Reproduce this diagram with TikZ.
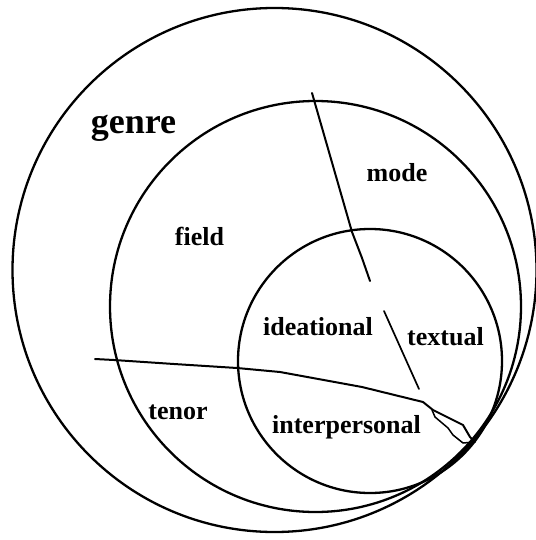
\documentclass[tikz,border=0pt]{standalone}
\usepackage{fontspec}
\setmainfont{Liberation Serif}
\begin{document}
\begin{tikzpicture}[x=1pt,y=-1pt,
  ring/.style={circle,draw,line width=2.3pt,inner sep=0pt,outer sep=0pt},
  lab/.style={anchor=base,inner sep=0pt,font=\bfseries\fontsize{26}{26}\selectfont},
  stroke/.style={line width=2pt,line cap=round,line join=round}]
\useasboundingbox (0,0) rectangle (535,540);
\node[ring,minimum size=524pt] (outer) at (274.5,270) {};
\node[ring,minimum size=411pt] (middle) at (315.5,306.5) {};
\node[ring,minimum size=264pt] (inner) at (370,361) {};
% labels
\node[lab,font=\bfseries\fontsize{36}{36}\selectfont] (genre) at (133.5,134) {genre};
\node[lab] (mode) at (397,181) {mode};
\node[lab] (field) at (199.5,245) {field};
\node[lab] (ideational) at (318,335.5) {ideational};
\node[lab] (textual) at (445.5,345.5) {textual};
\node[lab] (tenor) at (178,419) {tenor};
\node[lab] (interpersonal) at (346.5,433) {interpersonal};
% dividing strokes
\coordinate (v0) at (312,93);
\coordinate (v1) at (370,281);
\coordinate (v2) at (384,311);
\coordinate (v3) at (419,389);
\draw[stroke] (v0) -- (352,232) -- (362,258) -- (v1);
\draw[stroke,line width=1.7pt] (v2) -- (v3);
\coordinate (h0) at (95,359);
\coordinate (tp) at (475,442);
\draw[stroke] (h0) -- (114,360) -- (174,364) -- (237,368) -- (280,372) -- (362,387) -- (423,402) -- (433,410) -- (453,420) -- (463,425) -- (470,437) -- (tp);
\draw[stroke,line width=1.5pt] (432,410) -- (435,417) -- (448,428) -- (453,435) -- (463,443) -- (tp);
\end{tikzpicture}
\end{document}
